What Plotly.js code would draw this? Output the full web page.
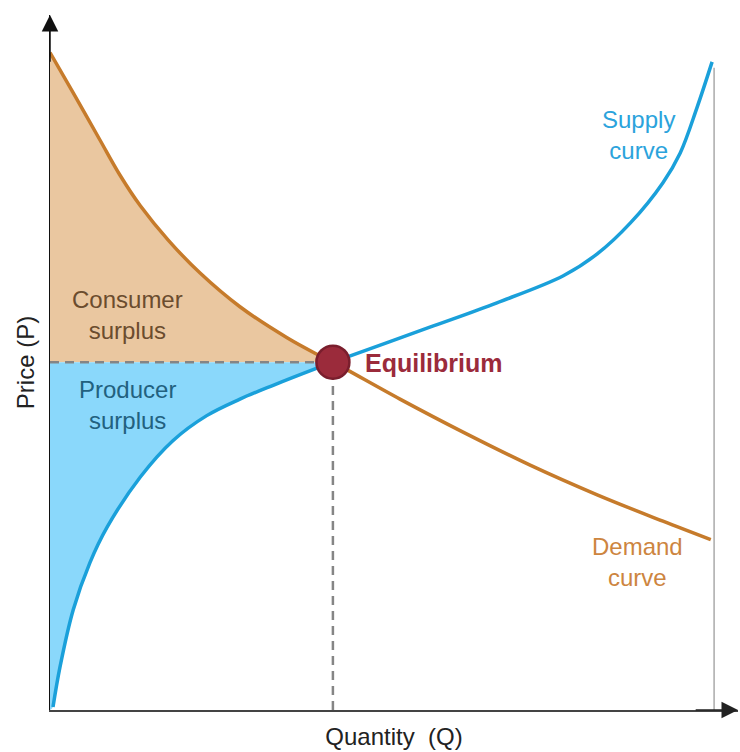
<!DOCTYPE html>
<html>
<head>
<meta charset="utf-8">
<script src="https://cdn.plot.ly/plotly-3.0.1.min.js"></script>
<style>html,body{margin:0;padding:0;background:#fff;}#chart{width:740px;height:752px;}</style>
</head>
<body>
<div id="chart"></div>
<script>
// Demand curve (quantity, price)
const demandQ = [0, 3.5, 7.5, 10.5, 13.6, 17.8, 22.6, 28.6, 35.7, 40.2, 42.6, 52.7, 62.2, 72.3, 82.4, 92.3, 99.5];
const demandP = [99.6, 93.5, 86.4, 81.1, 76.4, 71.2, 66.2, 61.1, 56.4, 53.9, 52.7, 47.1, 42.1, 37.1, 32.6, 28.6, 25.8];
// Supply curve
const supplyQ = [0.45, 1.5, 3.5, 6.0, 8.6, 13.6, 18.5, 23.6, 28.6, 33.6, 40.2, 42.6, 57.2, 67.3, 77.3, 82.4, 87.4, 92.3, 94.9, 97.4, 99.7];
const supplyP = [0.45, 6.5, 15.2, 22.3, 27.7, 35.3, 40.8, 44.6, 47.1, 49.2, 51.8, 52.7, 58.0, 61.7, 65.8, 69.1, 73.8, 79.9, 84.4, 91.2, 98.2];
// Equilibrium
const eqQ = 42.6;
const eqP = 52.7;
// Right boundary line
const boundQ = [100, 100];
const boundP = [0, 97.3];

const font = 'Liberation Sans, Arial, sans-serif';
const dIdx = demandQ.indexOf(eqQ);
const sIdx = supplyQ.indexOf(eqQ);
const dash = {color: '#858585', width: 2.5, dash: '9px,6px'};

const traces = [
  {x: [0, eqQ], y: [eqP, eqP], mode: 'lines', line: {width: 0}, hoverinfo: 'skip'},
  {x: demandQ.slice(0, dIdx + 1), y: demandP.slice(0, dIdx + 1), mode: 'lines', fill: 'tonexty',
   fillcolor: '#EAC7A0', line: {width: 0, shape: 'spline', smoothing: 1}, hoverinfo: 'skip'},
  {x: [0, eqQ], y: [eqP, eqP], mode: 'lines', line: {width: 0}, hoverinfo: 'skip'},
  {x: [0].concat(supplyQ.slice(0, sIdx + 1)), y: [0].concat(supplyP.slice(0, sIdx + 1)), mode: 'lines', fill: 'tonexty',
   fillcolor: '#8AD8FB', line: {width: 0, shape: 'spline', smoothing: 1}, hoverinfo: 'skip'},
  {x: boundQ, y: boundP, mode: 'lines', line: {color: '#aaaaaa', width: 1.5}},
  {x: [0, eqQ], y: [eqP, eqP], mode: 'lines', line: dash},
  {x: [eqQ, eqQ], y: [0, eqP], mode: 'lines', line: dash},
  {x: demandQ, y: demandP, mode: 'lines', line: {color: '#C67B2B', width: 3.5, shape: 'spline', smoothing: 1}},
  {x: supplyQ, y: supplyP, mode: 'lines', line: {color: '#1AA0DA', width: 3.5, shape: 'spline', smoothing: 1}},
  {x: [eqQ], y: [eqP], mode: 'markers', marker: {size: 33, color: '#9B2B3B', line: {color: '#7A1E2D', width: 2.5}}}
];

const layout = {
  width: 740, height: 752,
  margin: {l: 50, r: 2, t: 15, b: 42},
  paper_bgcolor: '#ffffff', plot_bgcolor: '#ffffff',
  showlegend: false,
  font: {family: font, size: 24, color: '#222'},
  xaxis: {range: [0, 103.6], showgrid: false, zeroline: false, showticklabels: false, ticks: '',
          showline: true, linecolor: '#444', linewidth: 2,
          title: {text: 'Quantity\u00A0 (Q)', font: {family: font, size: 24, color: '#222'}, standoff: 17}},
  yaxis: {range: [0, 105.3], showgrid: false, zeroline: false, showticklabels: false, ticks: '',
          showline: true, linecolor: '#111', linewidth: 1.5,
          title: {text: 'Price (P)', font: {family: font, size: 24, color: '#222'}, standoff: 7}},
  annotations: [
    {x: 0, y: 105.3, ax: 0, ay: 98, xref: 'x', yref: 'y', axref: 'x', ayref: 'y', text: '', showarrow: true,
     arrowhead: 2, arrowsize: 2.2, arrowwidth: 1.5, arrowcolor: '#111', standoff: 0},
    {x: 103.6, y: 0, ax: 97, ay: 0, xref: 'x', yref: 'y', axref: 'x', ayref: 'y', text: '', showarrow: true,
     arrowhead: 2, arrowsize: 2.2, arrowwidth: 1.5, arrowcolor: '#222', standoff: 0},
    {x: 11.6, y: 59.8, text: 'Consumer<br>surplus', showarrow: false, font: {family: font, size: 24, color: '#6B4C2E'}},
    {x: 11.6, y: 46.2, text: 'Producer<br>surplus', showarrow: false, font: {family: font, size: 24, color: '#22617F'}},
    {x: 47.1, y: 52.6, text: '<b>Equilibrium</b>', xanchor: 'left', showarrow: false, font: {family: font, size: 25, color: '#9B2B3B'}},
    {x: 88.6, y: 87.1, text: 'Supply<br>curve', showarrow: false, font: {family: font, size: 24, color: '#2BA3DC'}},
    {x: 88.4, y: 22.4, text: 'Demand<br>curve', showarrow: false, font: {family: font, size: 24, color: '#CD853F'}}
  ]
};

Plotly.newPlot('chart', traces, layout, {displayModeBar: false, staticPlot: true});
</script>
</body>
</html>
